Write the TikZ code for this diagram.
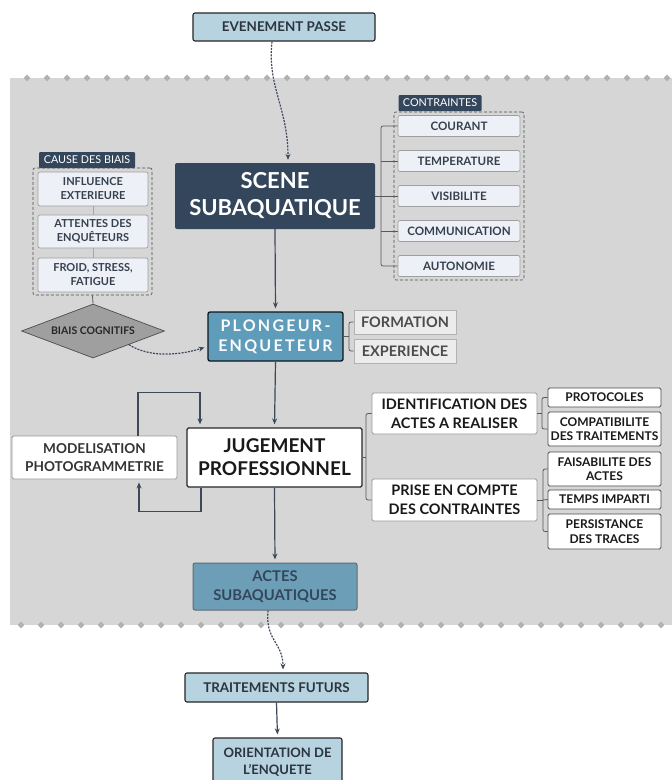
\documentclass[tikz,border=0pt]{standalone}
\usepackage{fontspec}
\setmainfont{Lato}
\usetikzlibrary{shapes.geometric,arrows.meta}

\definecolor{fondgris}{HTML}{D6D6D6}
\definecolor{bleuclair}{HTML}{B6D3DF}
\definecolor{marine}{HTML}{34465C}
\definecolor{bleuacier}{HTML}{5F9CBA}
\definecolor{bleuactes}{HTML}{6C9FB7}
\definecolor{trait}{HTML}{3D4858}
\definecolor{boitepale}{HTML}{EDF0F6}
\definecolor{texte}{HTML}{36414F}
\definecolor{grisclair}{HTML}{ECECEC}

\newcommand{\taille}[2]{\fontsize{#1}{#2}\selectfont}

\tikzset{
  base/.style={rectangle, align=center, inner sep=1pt, font=\bfseries},
  bleu/.style={base, fill=bleuclair, draw=black!85, line width=1.1pt, rounded corners=2pt, text=texte!80!black},
  petit/.style={base, fill=boitepale, draw=gray!75, line width=0.7pt, rounded corners=2pt, text=texte},
  blanc/.style={base, fill=white, draw=black!70, line width=0.8pt, rounded corners=1.5pt, text=black!90},
  gris/.style={base, fill=grisclair, draw=gray!60, line width=0.7pt, text=black!70},
  etiquette/.style={base, fill=marine, text=white, font=\taille{10.8}{12}, inner sep=2pt, rounded corners=1pt},
  groupe/.style={draw=gray!60!black, densely dashed, line width=0.6pt, rounded corners=2pt},
  fleche/.style={-{Stealth[length=6pt,width=5pt]}, draw=trait, line width=1.2pt, shorten >=3pt},
  pointille/.style={fleche, dash pattern=on 2pt off 1.2pt},
  accolade/.style={draw=black!65, line width=0.8pt, rounded corners=2pt},
  motif/.style={diamond, fill=gray!60, inner sep=0pt, minimum size=7pt},
}

\begin{document}
\begin{tikzpicture}[x=1pt, y=-1pt]
\useasboundingbox (0,0) rectangle (672,780);
\fill[white] (0,0) rectangle (672,780);

% Bande grise et motifs
\fill[fondgris] (10,78) rectangle (672,625);
\foreach \x in {27,47,...,667} \node[motif] at (\x,78) {};
\foreach \x in {21,41,...,661} \node[motif] at (\x,625) {};

% Evenement passe
\node[bleu, minimum width=182pt, minimum height=28pt, font=\bfseries\taille{13.4}{15}] (evt) at (284,27) {EVENEMENT PASSE};

% Scene subaquatique
\node[base, fill=marine, text=white, rounded corners=2pt, minimum width=200pt, minimum height=66pt, font=\bfseries\taille{22}{27}] (scene) at (275,196) {SCENE\\SUBAQUATIQUE};
\draw[pointille] ([xshift=-12pt]evt.south) .. controls +(-5,45) and +(0,-55) .. ([xshift=13pt]scene.north);

% Contraintes
\node[groupe, minimum width=130pt, minimum height=168pt] (grpc) at (459,196) {};
\node[etiquette, minimum width=83pt, minimum height=16pt] (lblc) at (440,103) {CONTRAINTES};
\node[petit, minimum width=122pt, minimum height=21pt, font=\bfseries\taille{11.6}{13}] (cou) at (459,126) {COURANT};
\node[petit, minimum width=122pt, minimum height=21pt, font=\bfseries\taille{11.6}{13}] (tem) at (459,161) {TEMPERATURE};
\node[petit, minimum width=122pt, minimum height=21pt, font=\bfseries\taille{11.6}{13}] (vis) at (459,196) {VISIBILITE};
\node[petit, minimum width=122pt, minimum height=21pt, font=\bfseries\taille{11.6}{13}] (com) at (459,231) {COMMUNICATION};
\node[petit, minimum width=122pt, minimum height=21pt, font=\bfseries\taille{11.6}{13}] (aut) at (459,266) {AUTONOMIE};
\coordinate (bc) at (381,196);
\draw[accolade] (scene.east) -- (bc);
\draw[accolade] (cou.west) -| (bc) |- (aut.west);
\draw[accolade] (tem.west) -- (tem.west -| bc);
\draw[accolade] (vis.west) -- (bc);
\draw[accolade] (com.west) -- (com.west -| bc);

% Cause des biais
\node[groupe, minimum width=119pt, minimum height=127pt] (grpb) at (92.5,231.5) {};
\node[etiquette, minimum width=96pt, minimum height=16pt] (lblb) at (87,160) {CAUSE DES BIAIS};
\node[petit, minimum width=110pt, minimum height=34pt, font=\bfseries\taille{11}{14}] (inf) at (93,189) {INFLUENCE\\EXTERIEURE};
\node[petit, minimum width=110pt, minimum height=33pt, font=\bfseries\taille{11}{14}] (att) at (93,231.5) {ATTENTES DES\\ENQUÊTEURS};
\node[petit, minimum width=110pt, minimum height=34pt, font=\bfseries\taille{11}{14}] (fro) at (93,275) {FROID, STRESS,\\FATIGUE};
\draw[accolade, draw=gray!70] (inf) -- (att);
\draw[accolade, draw=gray!70] (att) -- (fro);

% Biais cognitifs
\node[diamond, aspect=2.65, minimum width=143pt, minimum height=54pt, inner sep=0pt, fill=gray!75, draw=black!70, line width=0.7pt, font=\bfseries\taille{10.5}{12}, text=black!85] (biais) at (93,331) {BIAIS COGNITIFS};
\draw[accolade] (grpb.south) -- (biais.north);

% Plongeur-enqueteur
\node[base, fill=bleuacier, draw=black!70!marine, line width=1.3pt, rounded corners=2pt, minimum width=135pt, minimum height=49pt, text=white!92!bleuclair, font=\bfseries\taille{16}{20}\addfontfeature{LetterSpace=14}] (plong) at (275.5,336.5) {PLONGEUR-\\ENQUETEUR};
\draw[fleche] (scene.south) -- (plong.north);
\draw[pointille] (biais.south east) .. controls +(22,14) and +(-25,8) .. ([yshift=-10pt]plong.west);

% Formation, experience
\node[gris, minimum width=102pt, minimum height=24pt, font=\bfseries\taille{14.5}{16}] (form) at (405,322) {FORMATION};
\node[gris, minimum width=102pt, minimum height=24pt, font=\bfseries\taille{14.5}{16}] (expe) at (405,351) {EXPERIENCE};
\coordinate (bp) at (349,336.5);
\draw[accolade] (plong.east) -- (bp);
\draw[accolade] (form.west) -| (bp) |- (expe.west);

% Jugement professionnel
\node[blanc, draw=black!85, line width=1.3pt, minimum width=175pt, minimum height=59pt, font=\bfseries\taille{19}{23}] (jug) at (274.5,457.5) {JUGEMENT\\PROFESSIONNEL};
\draw[fleche] (plong.south) -- (jug.north);

% Modelisation
\node[blanc, draw=gray!80, minimum width=165pt, minimum height=43pt, font=\bfseries\taille{13.6}{18}, text=black!80] (mode) at (94.5,457.5) {MODELISATION\\PHOTOGRAMMETRIE};
\draw[fleche] ([xshift=43.5pt]mode.north) -- ++(0,-43) -| ([xshift=-74.5pt]jug.north);
\draw[fleche] ([xshift=-73.5pt]jug.south) -- ++(0,24) -| ([xshift=44.5pt]mode.south);

% Identification, prise en compte
\node[blanc, draw=gray!80, minimum width=165pt, minimum height=41pt, font=\bfseries\taille{14.5}{19}] (ident) at (454.5,413.5) {IDENTIFICATION DES\\ACTES A REALISER};
\node[blanc, draw=gray!80, minimum width=165pt, minimum height=42pt, font=\bfseries\taille{14.5}{19}] (prise) at (454.5,500) {PRISE EN COMPTE\\DES CONTRAINTES};
\coordinate (bj) at (366,457.5);
\draw[accolade] (jug.east) -- (bj);
\draw[accolade] (ident.west) -| (bj) |- (prise.west);

% Details
\node[blanc, minimum width=113pt, minimum height=19pt, font=\bfseries\taille{12}{14.5}] (proto) at (604.5,397.5) {PROTOCOLES};
\node[blanc, minimum width=113pt, minimum height=34pt, font=\bfseries\taille{12}{14.5}] (compat) at (604.5,429) {COMPATIBILITE\\DES TRAITEMENTS};
\node[blanc, minimum width=113pt, minimum height=34pt, font=\bfseries\taille{12}{14.5}] (faisa) at (604.5,469) {FAISABILITE DES\\ACTES};
\node[blanc, minimum width=113pt, minimum height=19pt, font=\bfseries\taille{12}{14.5}] (temps) at (604.5,499.5) {TEMPS IMPARTI};
\node[blanc, minimum width=113pt, minimum height=35pt, font=\bfseries\taille{12}{14.5}] (persi) at (604.5,531.5) {PERSISTANCE\\DES TRACES};
\coordinate (bi) at (542,413.5);
\draw[accolade] (ident.east) -- (bi);
\draw[accolade] (proto.west) -| (bi) |- (compat.west);
\coordinate (bq) at (543,500);
\draw[accolade] (prise.east) -- (bq);
\draw[accolade] (faisa.west) -| (bq) |- (persi.west);
\draw[accolade] (temps.west) -- (bq);

% Actes subaquatiques
\node[base, fill=bleuactes, draw=gray!60!marine, line width=1pt, rounded corners=2pt, minimum width=164pt, minimum height=47pt, text=marine, font=\bfseries\taille{14.8}{19}] (actes) at (275,586.5) {ACTES\\SUBAQUATIQUES};
\draw[fleche] (jug.south) -- (actes.north);

% Traitements futurs, orientation
\node[bleu, minimum width=183pt, minimum height=29pt, font=\bfseries\taille{13.4}{15}] (trait) at (276.5,687.5) {TRAITEMENTS FUTURS};
\draw[pointille] ([xshift=-7pt]actes.south) .. controls +(-3,30) and +(0,-30) .. ([xshift=6.5pt]trait.north);
\node[bleu, minimum width=129pt, minimum height=48pt, font=\bfseries\taille{13}{17}] (orient) at (277.5,762) {ORIENTATION DE\\L'ENQUETE};
\draw[fleche] (trait.south) -- (orient.north);

\end{tikzpicture}
\end{document}
